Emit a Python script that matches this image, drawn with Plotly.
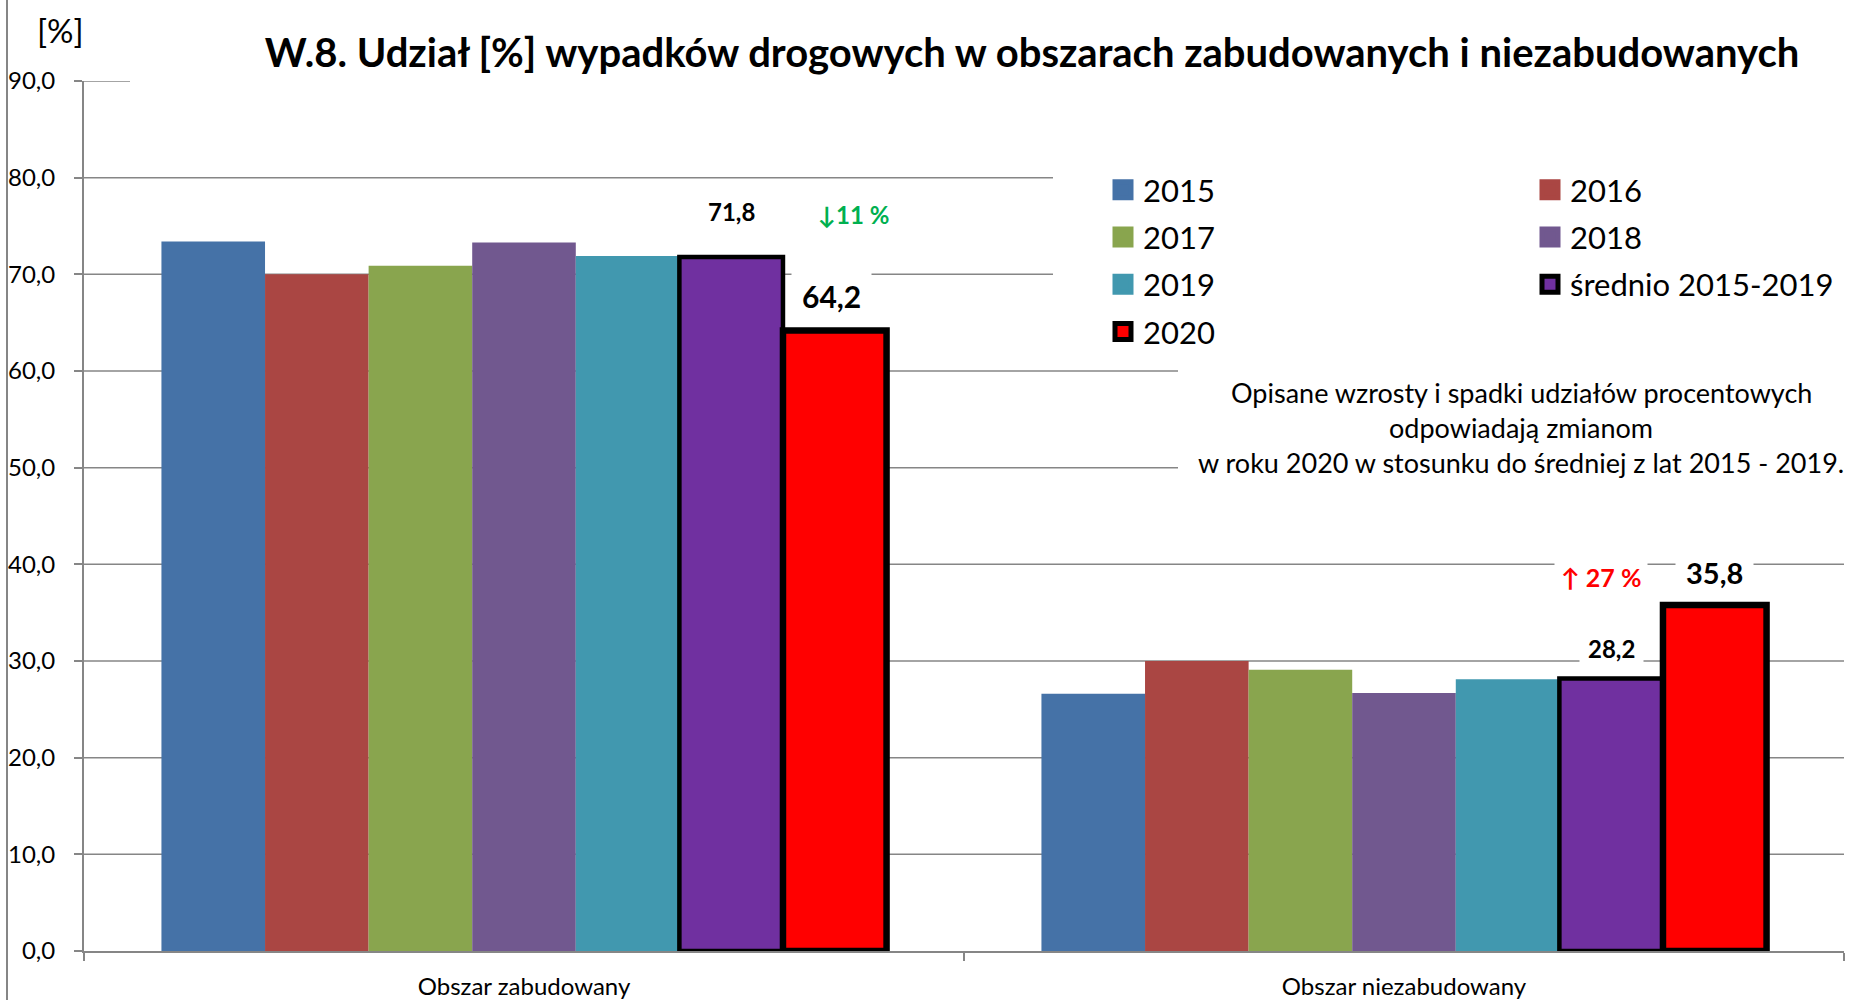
import plotly.graph_objects as go

# ---------------- data ----------------
categories = ["Obszar zabudowany", "Obszar niezabudowany"]
series_names = ["2015", "2016", "2017", "2018", "2019", "średnio 2015-2019", "2020"]
v2015 = [73.4, 26.6]
v2016 = [70.0, 30.0]
v2017 = [70.9, 29.1]
v2018 = [73.3, 26.7]
v2019 = [71.9, 28.1]
v_avg = [71.8, 28.2]
v2020 = [64.2, 35.8]
change_labels = ["↓11 %", "↑ 27 %"]
change_colors = ["#00B050", "#FF0000"]
y_tick_values = [0, 10, 20, 30, 40, 50, 60, 70, 80, 90]
y_tick_labels = ["0,0", "10,0", "20,0", "30,0", "40,0", "50,0", "60,0", "70,0", "80,0", "90,0"]
title_text = "W.8. Udział [%] wypadków drogowych w obszarach zabudowanych i niezabudowanych"
note_lines = ["Opisane wzrosty i spadki udziałów procentowych",
              "odpowiadają zmianom",
              "w roku 2020 w stosunku do średniej z lat 2015 - 2019."]

series_values = [v2015, v2016, v2017, v2018, v2019, v_avg, v2020]
colors = ["#4572A7", "#AA4643", "#89A54E", "#71588F", "#4198AF", "#7030A0", "#FF0000"]
line_widths = [0, 0, 0, 0, 0, 4.5, 6.5]

# ---------------- layout geometry ----------------
W, H = 1858, 1000
ML, MR, MT, MB = 84, 14, 81, 49
PW, PH = W - ML - MR, H - MT - MB
BARGAP = 0.176
FONT = "Lato, 'Open Sans', sans-serif"
GRID = "#868686"


def px_x(p):
    return (p - ML) / PW


def px_y(p):
    return (H - MB - p) / PH


n = len(series_names)
bw = (1 - BARGAP) / n


def bar_center(cat_idx, series_idx):
    return cat_idx - (1 - BARGAP) / 2 + (series_idx + 0.5) * bw


fig = go.Figure()
for i, (name, vals) in enumerate(zip(series_names, series_values)):
    fig.add_trace(go.Bar(
        x=categories, y=vals, name=name, showlegend=False,
        marker=dict(color=colors[i],
                    line=dict(color="black", width=line_widths[i])),
        hoverinfo="skip",
    ))

# legend proxies (two columns as two legends)
legend_cols = {"2015": "legend", "2017": "legend", "2019": "legend", "2020": "legend",
               "2016": "legend2", "2018": "legend2", "średnio 2015-2019": "legend2"}
order = ["2015", "2017", "2019", "2020", "2016", "2018", "średnio 2015-2019"]
for name in order:
    i = series_names.index(name)
    lc = "black" if line_widths[i] > 0 else colors[i]
    fig.add_trace(go.Scatter(
        x=[None], y=[None], mode="markers", name=name,
        legend=legend_cols[name], legendgroup=name,
        marker=dict(symbol="square", size=16, color=colors[i],
                    line=dict(color=lc, width=5)),
    ))

annotations = []
# value labels
avg_idx = series_names.index("średnio 2015-2019")
new_idx = series_names.index("2020")
avg_sizes = [24, 24]
avg_shift = [45, 30]
new_sizes = [30, 29]
new_shift = [34, 32]
new_xshift = [-3, 0]
for j in range(len(categories)):
    annotations.append(dict(
        x=bar_center(j, avg_idx), y=v_avg[j], xref="x", yref="y",
        text="<b>%s</b>" % ("%.1f" % v_avg[j]).replace(".", ","),
        showarrow=False, yshift=avg_shift[j], bgcolor="white", borderpad=8,
        font=dict(family=FONT, size=avg_sizes[j], color="black")))
    annotations.append(dict(
        x=bar_center(j, new_idx), y=v2020[j], xref="x", yref="y",
        xshift=new_xshift[j], yshift=new_shift[j],
        text="<b>%s</b>" % ("%.1f" % v2020[j]).replace(".", ","),
        showarrow=False, bgcolor="white", borderpad=10,
        font=dict(family=FONT, size=new_sizes[j], color="black")))

# change labels
annotations.append(dict(
    x=bar_center(0, new_idx), y=v_avg[0], xref="x", yref="y", xshift=19, yshift=42,
    text="<b>%s</b>" % change_labels[0], showarrow=False,
    font=dict(family=FONT, size=24, color=change_colors[0])))
annotations.append(dict(
    x=bar_center(1, avg_idx), y=v2020[1], xref="x", yref="y", xshift=-10, yshift=28,
    text="<b>%s</b>" % change_labels[1], showarrow=False, bgcolor="white", borderpad=6,
    font=dict(family=FONT, size=25, color=change_colors[1])))

# note
for k, line in enumerate(note_lines):
    annotations.append(dict(
        x=px_x(1521), y=px_y(392 + 35.5 * k), xref="paper", yref="paper",
        text=line, showarrow=False, xanchor="center", yanchor="middle",
        font=dict(family=FONT, size=27, color="black")))

# [%] unit
annotations.append(dict(
    x=px_x(60), y=px_y(30), xref="paper", yref="paper", text="[%]",
    showarrow=False, xanchor="center", yanchor="middle",
    font=dict(family=FONT, size=33, color="black")))

# gridlines: drawn below the bars; shortened where the title, legend and
# note boxes of the original chart cover them
grid_end_px = {90: 130, 80: 1053, 70: 1053, 60: 1178, 50: 1178}
shapes = []
for v in y_tick_values[1:]:
    x_end = px_x(grid_end_px[v]) if v in grid_end_px else 1.0
    shapes.append(dict(type="line", xref="x domain", yref="y", layer="below",
                       x0=0, x1=x_end, y0=v, y1=v,
                       line=dict(color=GRID, width=1.5)))
# outer chart border on the left
shapes.append(dict(type="line", xref="paper", yref="paper", layer="above",
                   x0=px_x(7), x1=px_x(7), y0=px_y(0), y1=px_y(1000),
                   line=dict(color=GRID, width=2)))

fig.update_layout(
    width=W, height=H,
    margin=dict(l=ML, r=MR, t=MT, b=MB, pad=0, autoexpand=False),
    paper_bgcolor="white", plot_bgcolor="white",
    barmode="group", bargap=BARGAP, bargroupgap=0,
    font=dict(family=FONT, color="black"),
    title=dict(text="<b>%s</b>" % title_text, x=1032 / W, xanchor="center",
               xref="container", y=1 - 53 / H, yanchor="middle", yref="container",
               font=dict(family=FONT, size=40, color="black")),
    legend=dict(x=px_x(1103), xref="paper", xanchor="left",
                y=px_y(163), yref="paper", yanchor="top",
                orientation="v", traceorder="grouped", tracegroupgap=4,
                bgcolor="rgba(0,0,0,0)", font=dict(family=FONT, size=31, color="black")),
    legend2=dict(x=px_x(1530), xref="paper", xanchor="left",
                 y=px_y(163), yref="paper", yanchor="top",
                 orientation="v", traceorder="grouped", tracegroupgap=4,
                 bgcolor="rgba(0,0,0,0)", font=dict(family=FONT, size=31, color="black")),
    xaxis=dict(type="category", showline=True, linecolor=GRID, linewidth=2,
               ticks="outside", tickson="boundaries", ticklen=8, tickcolor=GRID, tickwidth=2,
               showgrid=False, tickfont=dict(family=FONT, size=24, color="black"),
               ticklabelstandoff=13, range=[-0.5, 1.5]),
    yaxis=dict(range=[0, 90], tickvals=y_tick_values, ticktext=y_tick_labels,
               showline=True, linecolor=GRID, linewidth=2,
               ticks="outside", ticklen=8, tickcolor=GRID, tickwidth=2,
               showgrid=False, zeroline=False,
               tickfont=dict(family=FONT, size=24, color="black"),
               ticklabelstandoff=14),
    annotations=annotations,
    shapes=shapes,
    hovermode=False,
)

fig.write_html("out.html", config={"displayModeBar": False},
               post_script="document.body.style.margin='0';")
